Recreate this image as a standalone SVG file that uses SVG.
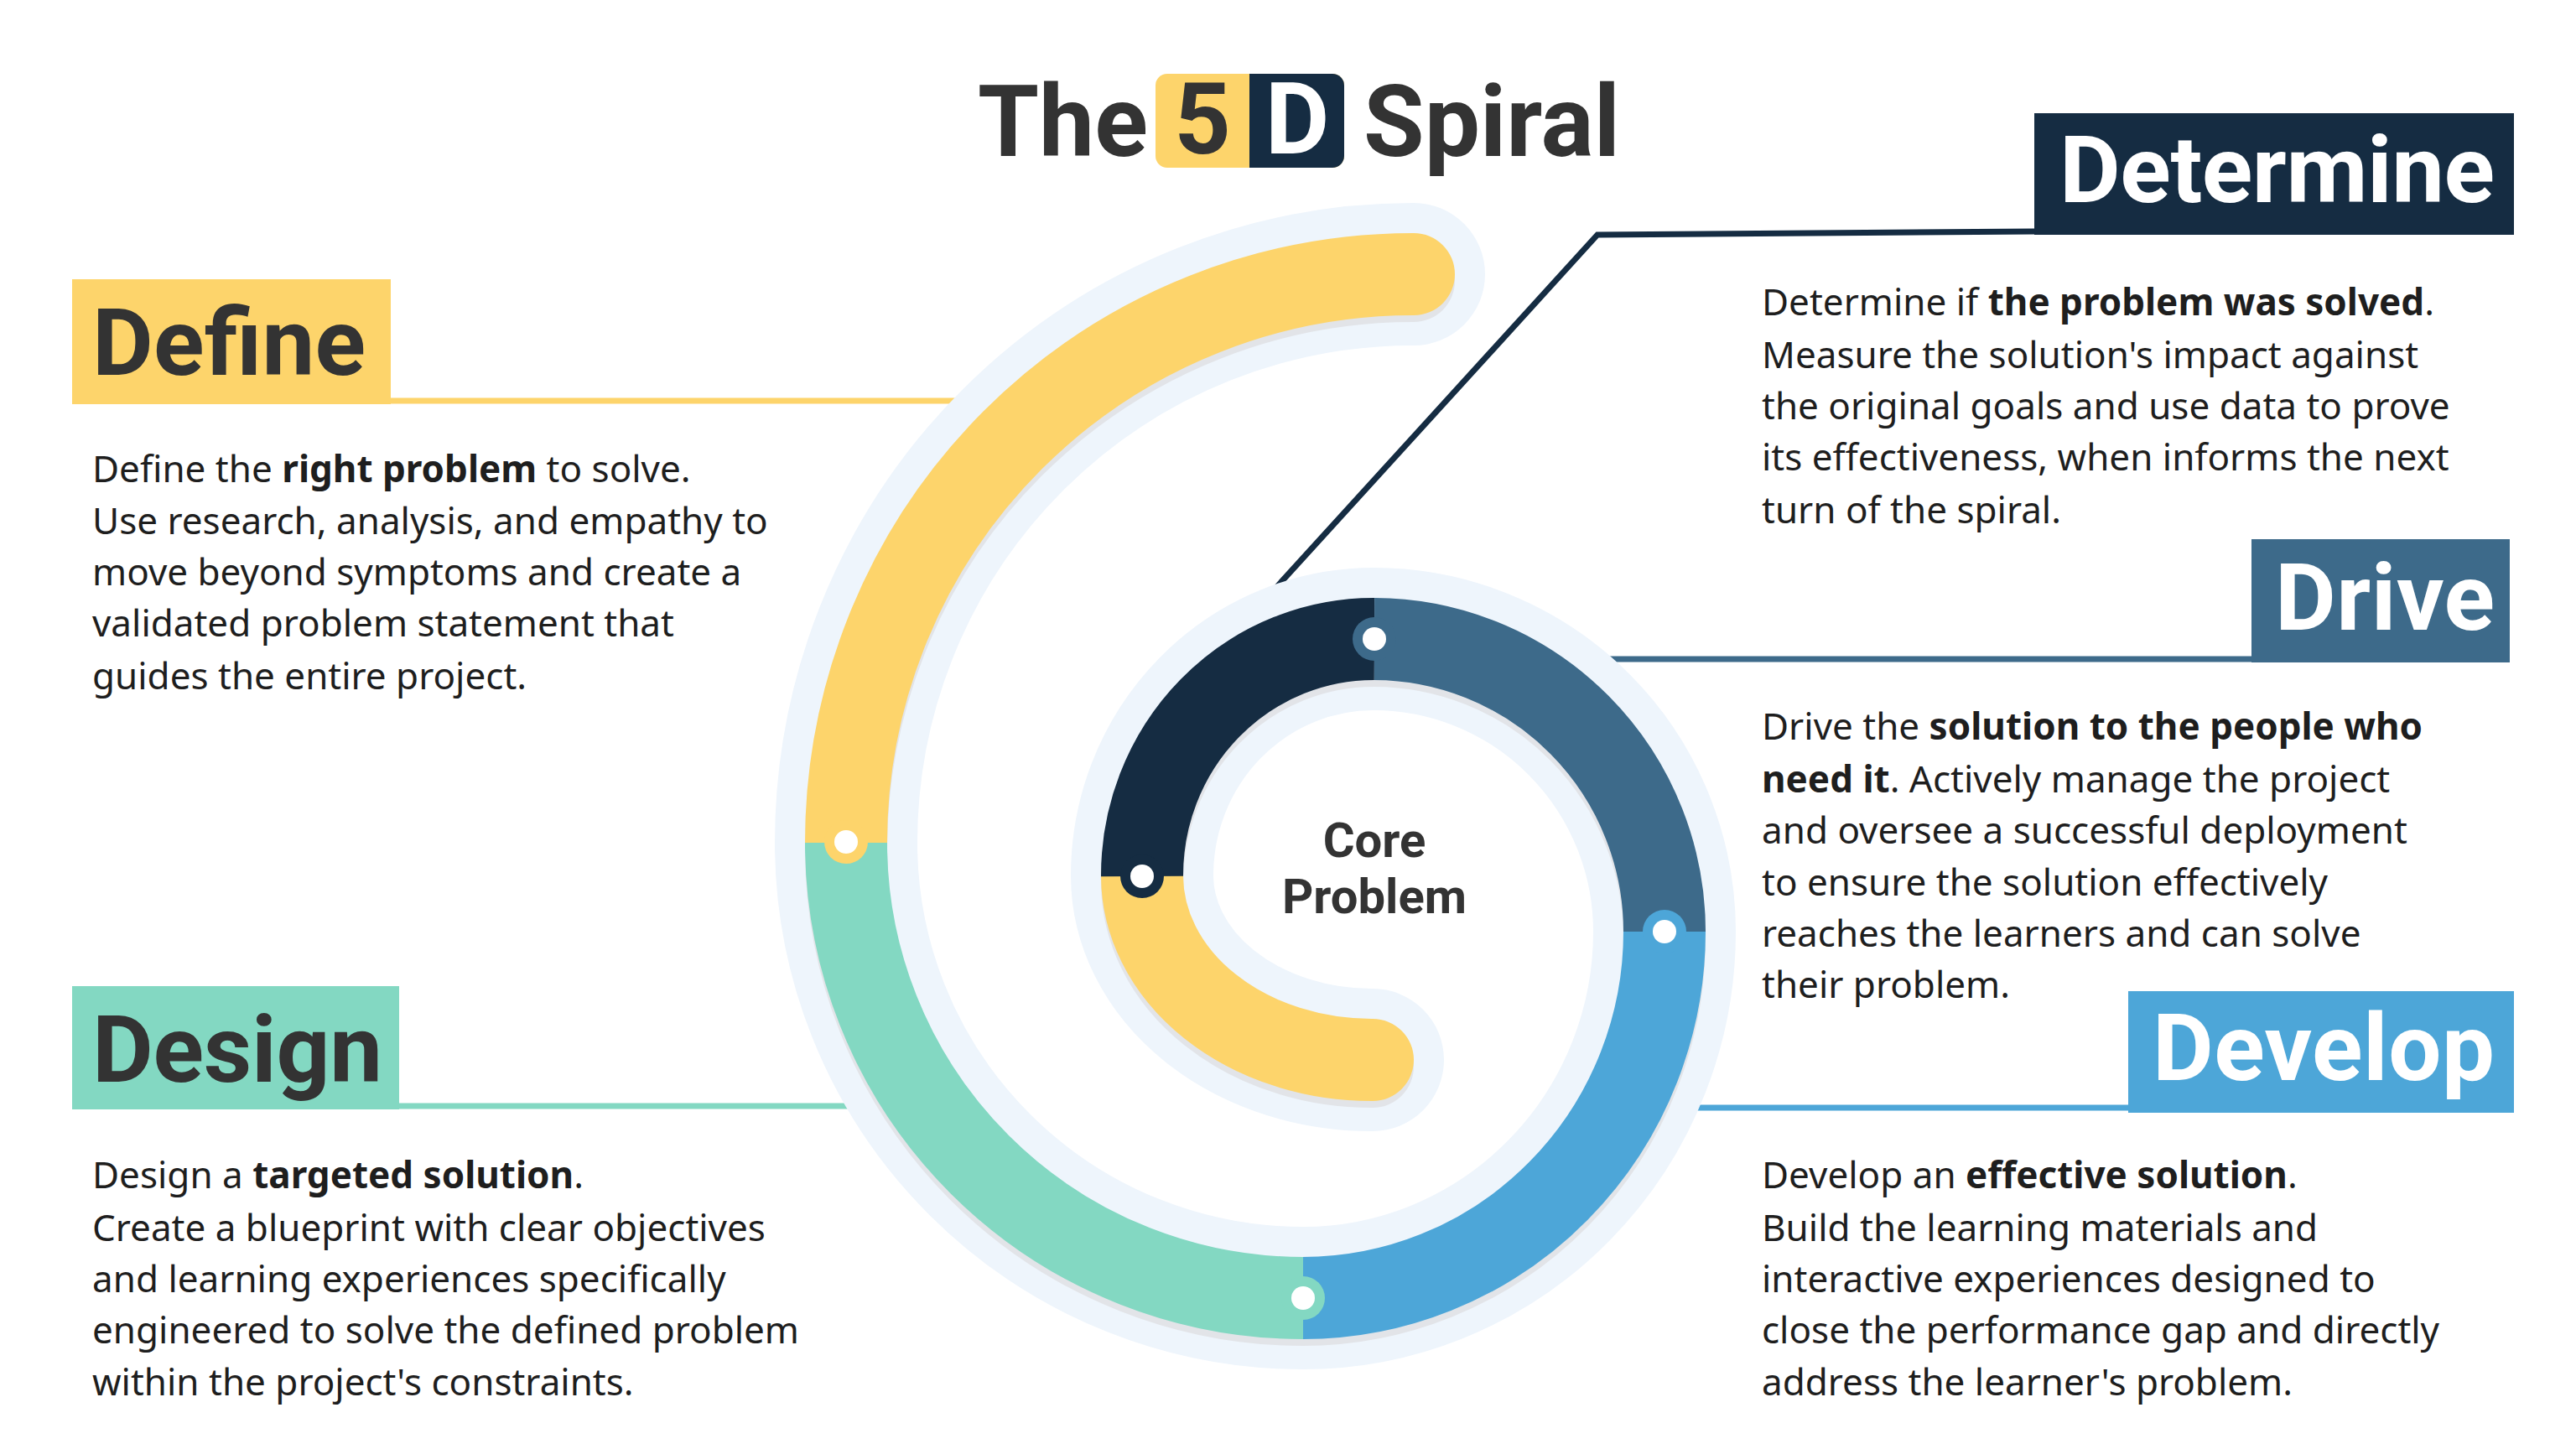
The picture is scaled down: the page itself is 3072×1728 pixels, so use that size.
<svg xmlns="http://www.w3.org/2000/svg" width="3072" height="1728" viewBox="0 0 3072 1728">
<style>
.lbl{font-family:Roboto,"Liberation Sans",sans-serif;font-weight:700;font-size:112px}
.body{font-family:"Noto Sans","Open Sans",sans-serif;font-size:44px;fill:#1e1e1e}
.b{font-weight:700}
.seg{fill:none;stroke-width:98}
.dot{fill:#fff}
</style>
<rect width="3072" height="1728" fill="#fff"/>
<g id="title" font-family="Roboto,'Liberation Sans',sans-serif" font-weight="700" font-size="118">
<text x="1166" y="186" fill="#333">The</text>
<rect x="1378" y="88" width="225" height="112" rx="14" fill="#fdd46b"/>
<path d="M1490 88 H1589 A14 14 0 0 1 1603 102 V186 A14 14 0 0 1 1589 200 H1490 Z" fill="#152c42"/>
<text x="1434" y="183" text-anchor="middle" fill="#333">5</text>
<text x="1547" y="183" text-anchor="middle" fill="#fff">D</text>
<text x="1626" y="186" fill="#333">Spiral</text>
</g>
<g id="connectors" fill="none">
<path d="M2426 276 L1905 280 L1466 762" stroke="#152c42" stroke-width="7"/>
<path d="M1872 786 H2685" stroke="#3d6a8a" stroke-width="7"/>
<path d="M1990 1321 H2538" stroke="#4da6d8" stroke-width="7"/>
<path d="M466 478 H1190" stroke="#fdd46b" stroke-width="7"/>
<path d="M476 1319 H1058" stroke="#83d8c2" stroke-width="7"/>
</g>
<g id="spiral">
<path d="M1637 1264 A274 220 0 0 1 1362 1045 A276 282 0 0 1 1639 762 A347 349 0 0 1 1985 1111 A431 437 0 0 1 1554 1548 A545 543 0 0 1 1009 1005 A676 678 0 0 1 1686 327" fill="none" stroke="#eef5fc" stroke-width="170" stroke-linecap="round"/>
<path d="M1637 1272 A274 220 0 0 1 1362 1053 A276 282 0 0 1 1639 770 A347 349 0 0 1 1985 1119 A431 437 0 0 1 1554 1556 A545 543 0 0 1 1009 1013 A676 678 0 0 1 1686 335" fill="none" stroke="#e2e4e8" stroke-width="98" stroke-linecap="round"/>
<path class="seg" d="M1637 1264 A274 220 0 0 1 1362 1045" stroke="#fdd46b" stroke-linecap="round"/>
<path class="seg" d="M1009 1005 A676 678 0 0 1 1686 327" stroke="#fdd46b" stroke-linecap="round"/>
<path class="seg" d="M1362 1045 A276 282 0 0 1 1639 762" stroke="#152c42"/>
<path class="seg" d="M1639 762 A347 349 0 0 1 1985 1111" stroke="#3d6a8a"/>
<path class="seg" d="M1985 1111 A431 437 0 0 1 1554 1548" stroke="#4da6d8"/>
<path class="seg" d="M1554 1548 A545 543 0 0 1 1009 1005" stroke="#83d8c2"/>
<circle cx="1009" cy="1004" r="26" fill="#fdd46b"/><circle class="dot" cx="1009" cy="1004" r="14"/>
<circle cx="1362" cy="1045" r="26" fill="#152c42"/><circle class="dot" cx="1362" cy="1045" r="14"/>
<circle cx="1639" cy="762" r="26" fill="#3d6a8a"/><circle class="dot" cx="1639" cy="762" r="14"/>
<circle cx="1985" cy="1111" r="26" fill="#4da6d8"/><circle class="dot" cx="1985" cy="1111" r="14"/>
<circle cx="1554" cy="1548" r="26" fill="#83d8c2"/><circle class="dot" cx="1554" cy="1548" r="14"/>
<text x="1639" y="1022" text-anchor="middle" font-family="Roboto,'Liberation Sans',sans-serif" font-weight="700" font-size="58" fill="#333">Core</text>
<text x="1639" y="1089" text-anchor="middle" font-family="Roboto,'Liberation Sans',sans-serif" font-weight="700" font-size="58" fill="#333">Problem</text>
</g>
<g id="define">
<rect x="86" y="333" width="380" height="149" fill="#fdd46b"/>
<text class="lbl" x="110" y="447" fill="#333" textLength="326">Define</text>
<text class="body"><tspan x="110" y="575">Define the <tspan class="b">right problem</tspan> to solve.</tspan><tspan x="110" y="637">Use research, analysis, and empathy to</tspan><tspan x="110" y="698">move beyond symptoms and create a</tspan><tspan x="110" y="759">validated problem statement that</tspan><tspan x="110" y="822">guides the entire project.</tspan></text>
</g>
<g id="design">
<rect x="86" y="1176" width="390" height="147" fill="#83d8c2"/>
<text class="lbl" x="110" y="1290" fill="#333" textLength="346">Design</text>
<text class="body"><tspan x="110" y="1417">Design a <tspan class="b">targeted solution</tspan>.</tspan><tspan x="110" y="1480">Create a blueprint with clear objectives</tspan><tspan x="110" y="1541">and learning experiences specifically</tspan><tspan x="110" y="1602">engineered to solve the defined problem</tspan><tspan x="110" y="1664">within the project's constraints.</tspan></text>
</g>
<g id="determine">
<rect x="2426" y="135" width="572" height="145" fill="#152c42"/>
<text class="lbl" x="2456" y="241" fill="#fff" textLength="519">Determine</text>
<text class="body"><tspan x="2101" y="376">Determine if <tspan class="b">the problem was solved</tspan>.</tspan><tspan x="2101" y="439">Measure the solution's impact against</tspan><tspan x="2101" y="500">the original goals and use data to prove</tspan><tspan x="2101" y="561">its effectiveness, when informs the next</tspan><tspan x="2101" y="624">turn of the spiral.</tspan></text>
</g>
<g id="drive">
<rect x="2685" y="643" width="308" height="147" fill="#3d6a8a"/>
<text class="lbl" x="2713" y="751" fill="#fff" textLength="262">Drive</text>
<text class="body"><tspan x="2101" y="882">Drive the <tspan class="b">solution to the people who</tspan></tspan><tspan x="2101" y="945"><tspan class="b">need it</tspan>. Actively manage the project</tspan><tspan x="2101" y="1006">and oversee a successful deployment</tspan><tspan x="2101" y="1068">to ensure the solution effectively</tspan><tspan x="2101" y="1129">reaches the learners and can solve</tspan><tspan x="2101" y="1190">their problem.</tspan></text>
</g>
<g id="develop">
<rect x="2538" y="1182" width="460" height="145" fill="#4da6d8"/>
<text class="lbl" x="2567" y="1288" fill="#fff" textLength="408">Develop</text>
<text class="body"><tspan x="2101" y="1417">Develop an <tspan class="b">effective solution</tspan>.</tspan><tspan x="2101" y="1480">Build the learning materials and</tspan><tspan x="2101" y="1541">interactive experiences designed to</tspan><tspan x="2101" y="1602">close the performance gap and directly</tspan><tspan x="2101" y="1664">address the learner's problem.</tspan></text>
</g>
</svg>
